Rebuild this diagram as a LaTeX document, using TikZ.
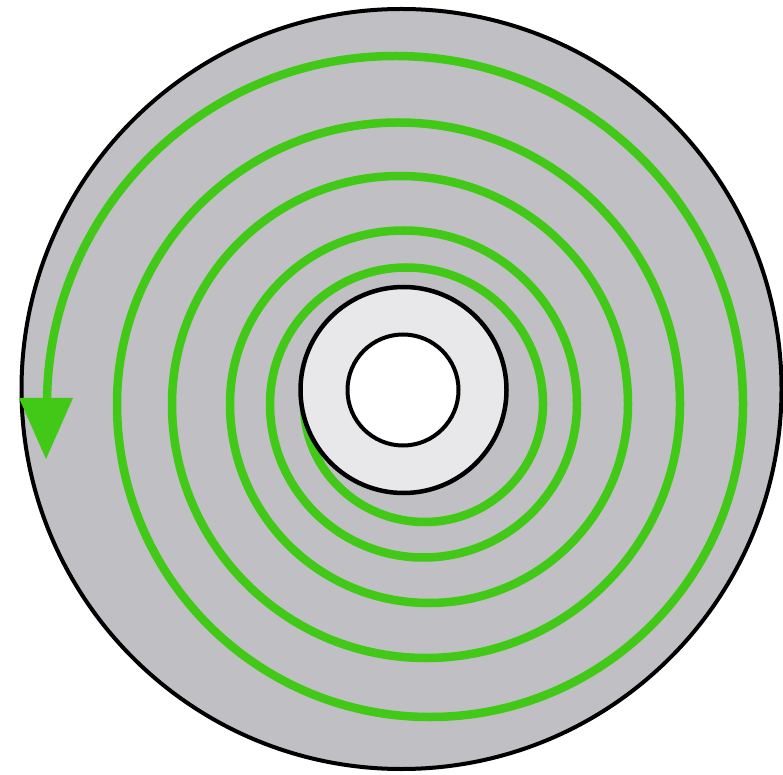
\documentclass[tikz,border=0pt]{standalone}
\definecolor{discgrey}{RGB}{191,191,196}
\definecolor{ringgrey}{RGB}{232,232,235}
\definecolor{spiralgreen}{RGB}{66,200,22}
\begin{document}
\begin{tikzpicture}[x=1pt,y=1pt,
  spiral/.style={draw=spiralgreen,line width=8.5pt},
  rim/.style={draw=black,line width=4pt}]
\useasboundingbox (0,0) rectangle (783,774);
\fill[white] (0,0) rectangle (783,774);
% disc
\draw[rim,fill=discgrey] (401.5,385) circle[radius=380];
% spiral (outward, counter-clockwise)
\draw[spiral] (304,370)
  arc[start angle=180,end angle=270,x radius=121,y radius=118]
  arc[start angle=270,end angle=360,radius=118]
  arc[start angle=0,end angle=180,radius=136.5]
  arc[start angle=180,end angle=360,radius=153.5]
  arc[start angle=0,end angle=180,radius=173.5]
  arc[start angle=180,end angle=360,radius=199]
  arc[start angle=0,end angle=180,radius=228]
  arc[start angle=180,end angle=360,radius=254]
  arc[start angle=0,end angle=180,radius=281.5]
  arc[start angle=180,end angle=360,radius=313]
  arc[start angle=0,end angle=180,radius=348]
  -- (47,362) coordinate (send);
\fill[spiralgreen] (19,376) -- (73,376) -- (46,315) -- cycle;
% hub
\draw[rim,line width=4.5pt,fill=ringgrey] (403.5,384) circle[radius=103];
\draw[rim,fill=white] (403,384) circle[radius=55.5];
\end{tikzpicture}
\end{document}
